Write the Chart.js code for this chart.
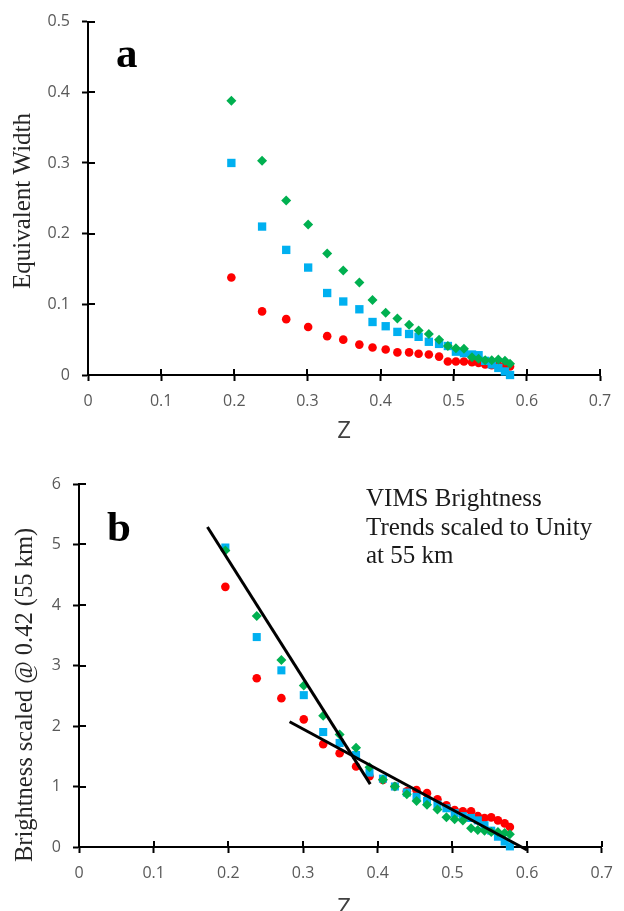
<!DOCTYPE html>
<html>
<head>
<meta charset="utf-8">
<script src="https://cdn.jsdelivr.net/npm/chart.js@4.4.1/dist/chart.umd.min.js"></script>
<style>
  html, body { margin: 0; padding: 0; background: #fff; }
  #wrap { position: relative; width: 624px; height: 911px; overflow: hidden; }
  canvas { position: absolute; left: 0; }
  #chartA { top: 0; }
  #chartB { top: 440px; }
</style>
</head>
<body>
<div id="wrap">
  <canvas id="chartA" width="624" height="440"></canvas>
  <canvas id="chartB" width="624" height="471"></canvas>
</div>
<script>
// Z values shared by both panels
const zVals = [0.196, 0.238, 0.271, 0.301, 0.327, 0.349, 0.371, 0.389, 0.407, 0.423, 0.439, 0.452,
               0.466, 0.480, 0.492, 0.503, 0.514, 0.525, 0.534, 0.543, 0.552, 0.561, 0.570, 0.577];

// panel a: equivalent width
const ewGreen = [0.388, 0.303, 0.247, 0.213, 0.172, 0.148, 0.131, 0.106, 0.088, 0.080, 0.071, 0.063,
                 0.058, 0.050, 0.041, 0.038, 0.037, 0.025, 0.023, 0.021, 0.021, 0.022, 0.020, 0.016];
const ewBlue  = [0.300, 0.210, 0.177, 0.152, 0.116, 0.104, 0.093, 0.075, 0.069, 0.061, 0.058, 0.054,
                 0.047, 0.044, 0.041, 0.033, 0.031, 0.029, 0.028, 0.020, 0.015, 0.010, 0.005, 0.000];
const ewRed   = [0.138, 0.090, 0.079, 0.068, 0.055, 0.050, 0.043, 0.039, 0.036, 0.032, 0.032, 0.030,
                 0.029, 0.026, 0.019, 0.019, 0.019, 0.018, 0.017, 0.015, 0.014, 0.014, 0.013, 0.012];

// panel b: brightness scaled at 0.42
const brGreen = [4.90, 3.82, 3.09, 2.67, 2.17, 1.86, 1.64, 1.32, 1.11, 1.00, 0.87, 0.76,
                 0.70, 0.62, 0.49, 0.46, 0.44, 0.31, 0.28, 0.27, 0.25, 0.25, 0.23, 0.21];
const brBlue  = [4.95, 3.47, 2.92, 2.51, 1.90, 1.72, 1.52, 1.23, 1.13, 1.00, 0.90, 0.83,
                 0.76, 0.70, 0.64, 0.56, 0.51, 0.48, 0.44, 0.36, 0.27, 0.17, 0.09, 0.01];
const brRed   = [4.30, 2.79, 2.46, 2.11, 1.70, 1.55, 1.33, 1.17, 1.11, 1.00, 0.92, 0.94,
                 0.89, 0.79, 0.69, 0.61, 0.59, 0.59, 0.51, 0.48, 0.49, 0.44, 0.39, 0.33];

// two trend lines in panel b (end points)
const trendSteepZ = [0.172, 0.390];
const trendSteepY = [5.29, 1.04];
const trendFlatZ  = [0.282, 0.600];
const trendFlatY  = [2.07, -0.05];

function pts(xs, ys) {
    return xs.map(function (x, i) { return { x: x, y: ys[i] }; });
}

const RED = '#ff0000', BLUE = '#00b0f0', GREEN = '#00b050';
const SERIF = '"Liberation Serif", "Times New Roman", serif';
const SANS = '"Open Sans", "Liberation Sans", sans-serif';

function markers(data, color, style, radius, order) {
    return {
        data: data,
        pointStyle: style,
        pointRadius: radius,
        pointHoverRadius: radius,
        pointBackgroundColor: color,
        pointBorderWidth: 0,
        showLine: false,
        clip: false,
        order: order
    };
}

// cross-style tick marks: draw the part that reaches into the plot area
const crossTicks = {
    id: 'crossTicks',
    afterDraw(chart) {
        const c = chart.ctx, a = chart.chartArea;
        c.save();
        c.strokeStyle = '#000';
        c.lineWidth = 2;
        const xs = chart.scales.x, ys = chart.scales.y;
        xs.ticks.forEach(function (t) {
            const p = Math.round(xs.getPixelForValue(t.value));
            c.beginPath(); c.moveTo(p, a.bottom); c.lineTo(p, a.bottom - 6); c.stroke();
        });
        ys.ticks.forEach(function (t) {
            const p = Math.round(ys.getPixelForValue(t.value));
            c.beginPath(); c.moveTo(a.left, p); c.lineTo(a.left + 7, p); c.stroke();
        });
        c.restore();
    }
};

// free text: panel letters, axis titles, note
const notes = {
    id: 'notes',
    afterDraw(chart, args, opts) {
        const c = chart.ctx;
        (opts.items || []).forEach(function (it) {
            c.save();
            c.font = it.font;
            c.fillStyle = it.color || '#000';
            c.textAlign = it.align || 'left';
            c.textBaseline = it.baseline || 'alphabetic';
            c.translate(it.x, it.y);
            if (it.rotate) c.rotate(it.rotate);
            c.fillText(it.text, 0, 0);
            c.restore();
        });
    }
};

function axes(xW, xH, yMax, yStep) {
    const grid = { display: true, drawOnChartArea: false, drawTicks: true, tickLength: 6, tickWidth: 2, tickColor: '#000' };
    const border = { display: true, color: '#000', width: 2 };
    const ticks = { color: '#595959', font: { family: SANS, size: 16 }, padding: 11 };
    return {
        x: {
            type: 'linear', min: 0, max: 0.7,
            grid: grid, border: border,
            ticks: Object.assign({}, ticks, { stepSize: 0.1, maxRotation: 0 }),
            afterFit: function (s) { s.height = xH; }
        },
        y: {
            type: 'linear', min: 0, max: yMax,
            grid: grid, border: border,
            ticks: Object.assign({}, ticks, { stepSize: yStep, padding: 12 }),
            afterFit: function (s) { s.width = xW; }
        }
    };
}

const commonPlugins = {
    legend: { display: false },
    tooltip: { enabled: false }
};

new Chart(document.getElementById('chartA'), {
    type: 'scatter',
    data: {
        datasets: [
            markers(pts(zVals, ewGreen), GREEN, 'rectRot', 5, 1),
            markers(pts(zVals, ewBlue), BLUE, 'rect', 5.9, 2),
            markers(pts(zVals, ewRed), RED, 'circle', 4.3, 3)
        ]
    },
    options: {
        responsive: false,
        animation: false,
        layout: { padding: { top: 18, right: 24, left: 0, bottom: 0 } },
        scales: axes(88, 65, 0.5, 0.1),
        plugins: Object.assign({}, commonPlugins, {
            notes: {
                items: [
                    { text: 'a', x: 116, y: 67, font: 'bold 43px ' + SERIF },
                    { text: 'Equivalent Width', x: 30, y: 201, font: '25px ' + SERIF, align: 'center',
                      rotate: -Math.PI / 2, color: '#262626' },
                    { text: 'Z', x: 344, y: 431, font: '24px ' + SANS, align: 'center', baseline: 'middle', color: '#404040' }
                ]
            }
        })
    },
    plugins: [crossTicks, notes]
});

new Chart(document.getElementById('chartB'), {
    type: 'scatter',
    data: {
        datasets: [
            {
                data: pts(trendSteepZ, trendSteepY),
                showLine: true, borderColor: '#000', borderWidth: 3, pointRadius: 0, clip: false, order: 0
            },
            {
                data: pts(trendFlatZ, trendFlatY),
                showLine: true, borderColor: '#000', borderWidth: 3, pointRadius: 0, clip: false, order: 0
            },
            markers(pts(zVals, brGreen), GREEN, 'rectRot', 5, 1),
            markers(pts(zVals, brBlue), BLUE, 'rect', 5.7, 2),
            markers(pts(zVals, brRed), RED, 'circle', 4.3, 3)
        ]
    },
    options: {
        responsive: false,
        animation: false,
        layout: { padding: { top: 44, right: 15, left: 0, bottom: 0 } },
        scales: axes(79, 64, 6, 1),
        plugins: Object.assign({}, commonPlugins, {
            notes: {
                items: [
                    { text: 'b', x: 107, y: 101, font: 'bold 43px ' + SERIF },
                    { text: 'VIMS Brightness', x: 366, y: 66, font: '25px ' + SERIF, color: '#1a1a1a' },
                    { text: 'Trends scaled to Unity', x: 366, y: 95, font: '25px ' + SERIF, color: '#1a1a1a' },
                    { text: 'at 55 km', x: 366, y: 123, font: '25px ' + SERIF, color: '#1a1a1a' },
                    { text: 'Brightness scaled @ 0.42 (55 km)', x: 32, y: 255, font: '24.5px ' + SERIF, align: 'center',
                      rotate: -Math.PI / 2, color: '#262626' },
                    { text: 'Z', x: 344, y: 468, font: '24px ' + SANS, align: 'center', baseline: 'middle', color: '#404040' }
                ]
            }
        })
    },
    plugins: [crossTicks, notes]
});
</script>
</body>
</html>
